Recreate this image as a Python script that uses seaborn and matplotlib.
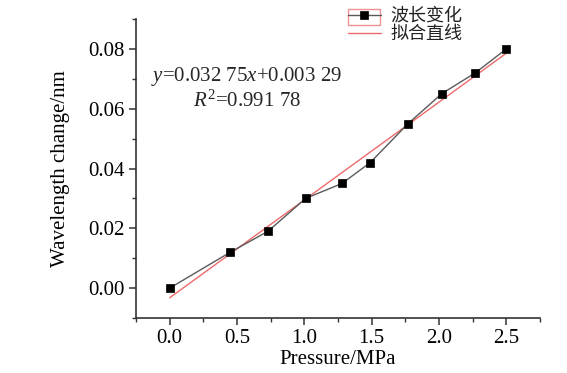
import numpy as np
import pandas as pd
import seaborn as sns
import matplotlib
matplotlib.use("Agg")
import matplotlib.pyplot as plt
from matplotlib.ticker import MultipleLocator, FormatStrFormatter
from matplotlib.patches import Rectangle

# ---- data ----
pressure = [0.0, 0.45, 0.73, 1.01, 1.28, 1.49, 1.77, 2.02, 2.27, 2.50]
wl_change = [0.000, 0.012, 0.019, 0.030, 0.035, 0.042, 0.055, 0.065, 0.072, 0.080]
series_labels = ["波长变化", "拟合直线"]
x_label = "Pressure/MPa"
y_label = "Wavelength change/nm"
eq_text = r"$y$=0.032 75$x$+0.003 29"
r2_text = r"$R^{2}$=0.991 78"

sns.set_theme(style="ticks")
plt.rcParams["font.family"] = ["Liberation Serif", "Noto Sans CJK SC"]
plt.rcParams["mathtext.fontset"] = "custom"
plt.rcParams["mathtext.rm"] = "Liberation Serif"
plt.rcParams["mathtext.it"] = "Liberation Serif:italic"

fig = plt.figure(figsize=(5.67, 3.73), dpi=100)
ax = fig.add_axes([136 / 567, 1 - 318 / 373, (540 - 136) / 567, (318 - 19) / 373])

df = pd.DataFrame({"p": pressure, "w": wl_change})

sns.regplot(data=df, x="p", y="w", ax=ax, scatter=False, ci=None,
            color="#ee6a6a", line_kws=dict(lw=1.0, zorder=2), label=series_labels[1])
sns.lineplot(data=df, x="p", y="w", ax=ax, color="#5a5a5a", lw=1.0,
             marker="s", markersize=5.2, markerfacecolor="black",
             markeredgecolor="black", markeredgewidth=0.5,
             label=series_labels[0], zorder=3)

ax.set_xlim(-0.25, 2.75)
ax.set_ylim(-0.01, 0.09)
ax.xaxis.set_major_locator(MultipleLocator(0.5))
ax.xaxis.set_minor_locator(MultipleLocator(0.25))
ax.yaxis.set_major_locator(MultipleLocator(0.02))
ax.yaxis.set_minor_locator(MultipleLocator(0.01))
ax.xaxis.set_major_formatter(FormatStrFormatter("%.1f"))
ax.yaxis.set_major_formatter(FormatStrFormatter("%.2f"))

for s in ["top", "right"]:
    ax.spines[s].set_visible(False)
for s in ["left", "bottom"]:
    ax.spines[s].set_color("#333333")
    ax.spines[s].set_linewidth(1.2)

ax.tick_params(which="major", direction="out", length=5, width=1.1,
               color="#333333", labelsize=15, labelcolor="black", pad=3)
ax.tick_params(which="minor", direction="out", length=3, width=1.0, color="#333333")

ax.set_xlabel(x_label, fontsize=15, labelpad=1, color="black")
ax.set_ylabel(y_label, fontsize=15, labelpad=13, color="black")

leg0 = ax.get_legend()
if leg0 is not None:
    leg0.remove()
lines = ax.get_lines()
h_data = [l for l in lines if l.get_label() == series_labels[0]][0]
h_fit = [l for l in lines if l.get_label() == series_labels[1]][0]
leg = fig.legend([h_data, h_fit], series_labels, loc="upper left",
                 bbox_to_anchor=(348 / 567, 1 - 7 / 373), frameon=False,
                 borderpad=0, borderaxespad=0, handlelength=1.8, handletextpad=0.55,
                 labelspacing=0.0, numpoints=1, prop={"family": "Noto Sans CJK SC", "size": 13})
for t in leg.get_texts():
    t.set_color("#222222")

fig.patches.append(Rectangle((348 / 567, 1 - 25 / 373), 32 / 567, 16 / 373,
                             transform=fig.transFigure, fill=False,
                             edgecolor="#f09090", lw=1.0))

fig.text(151 / 567, 1 - 76 / 373, eq_text, fontsize=15, va="center", ha="left")
fig.text(193 / 567, 1 - 101 / 373, r2_text, fontsize=15, va="center", ha="left")

fig.savefig("out.png", dpi=100)
